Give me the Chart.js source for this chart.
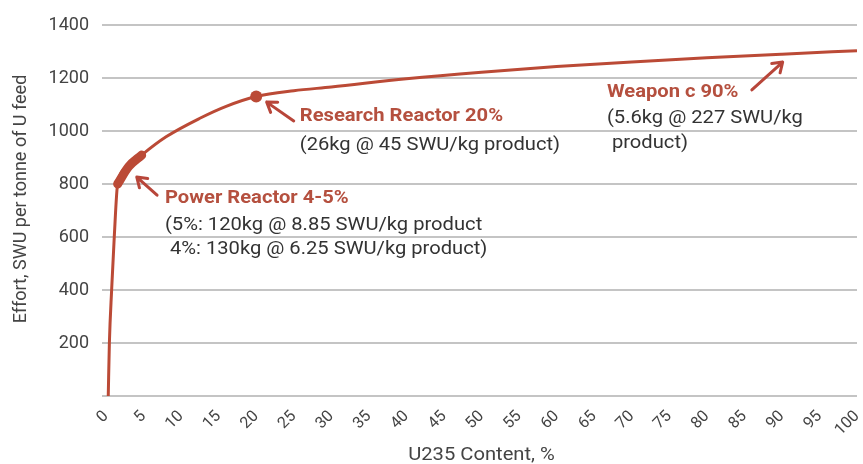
<!DOCTYPE html>
<html>
<head>
<meta charset="utf-8">
<script src="https://cdn.jsdelivr.net/npm/chart.js@4.4.1/dist/chart.umd.min.js"></script>
<style>
  html, body { margin: 0; padding: 0; background: #fff; }
  #wrap { width: 863px; height: 464px; position: relative; }
</style>
</head>
<body>
<div id="wrap"><canvas id="c" width="863" height="464"></canvas></div>
<script>
// ---- data ----
const u235Content = [0.3, 0.45, 0.75, 1.1, 1.55, 3.0, 4.75, 8, 12.5, 16, 20, 25, 30, 40, 50, 60, 70, 80, 90, 100];
const swuEffort   = [0, 200, 400, 600, 800, 865, 909, 978, 1048, 1093, 1130, 1152, 1166, 1197, 1222, 1243, 1260, 1276, 1290, 1303];
const powerReactorX = [1.55, 3.0, 4.75];
const powerReactorY = [800, 865, 909];
const researchX = [20];
const researchY = [1130];
const yTicks = [0, 200, 400, 600, 800, 1000, 1200, 1400];
const xTicks = [0, 5, 10, 15, 20, 25, 30, 35, 40, 45, 50, 55, 60, 65, 70, 75, 80, 85, 90, 95, 100];

const xTitle = 'U235 Content, %';
const yTitle = 'Effort, SWU per tonne of U feed';
const annotations = [
  { title: 'Research Reactor 20%', lines: ['(26kg @ 45 SWU/kg product)'] },
  { title: 'Power Reactor 4-5%', lines: ['(5%: 120kg @ 8.85 SWU/kg product', ' 4%: 130kg @ 6.25 SWU/kg product)'] },
  { title: 'Weapon c 90%', lines: ['(5.6kg @ 227 SWU/kg', ' product)'] }
];

// ---- styling / placement (data-space anchors) ----
const RED = '#bb4a36';
const LABEL_RED = '#b5503f';
const TEXT = '#333333';
const AXIS_TEXT = '#444444';
const SX = 1.12; // horizontal stretch of reference lettering
const annoPlace = [
  { x: 25.8, y: [1053, 947], arrow: [[25.0, 1038], [21.4, 1109]] },
  { x: 7.85, y: [745, 642, 551], arrow: [[6.8, 758], [4.1, 826]] },
  { x: 66.7, y: [1147, 1049, 951], arrow: [[86.0, 1155], [90.1, 1260]] }
];

const toXY = (xs, ys) => xs.map((x, i) => ({ x: x, y: ys[i] }));

function stretchedText(ctx, text, x, y, align) {
  ctx.save();
  ctx.translate(x, y);
  ctx.scale(SX, 1);
  ctx.textAlign = align;
  ctx.fillText(text, 0, 0);
  ctx.restore();
}

const annoPlugin = {
  id: 'annos',
  afterDraw(chart) {
    const ctx = chart.ctx, xs = chart.scales.x, ys = chart.scales.y, ca = chart.chartArea;
    ctx.save();
    ctx.textBaseline = 'middle';
    // axis titles
    ctx.fillStyle = AXIS_TEXT;
    ctx.font = '18px Roboto';
    stretchedText(ctx, xTitle, (ca.left + ca.right) / 2, 455, 'center');
    ctx.save();
    ctx.translate(21, 199);
    ctx.rotate(-Math.PI / 2);
    ctx.textAlign = 'center';
    ctx.fillText(yTitle, 0, 0);
    ctx.restore();

    annotations.forEach((a, i) => {
      const p = annoPlace[i];
      const px = xs.getPixelForValue(p.x);
      ctx.font = 'bold 18px Roboto';
      ctx.fillStyle = LABEL_RED;
      stretchedText(ctx, a.title, px, ys.getPixelForValue(p.y[0]), 'left');
      ctx.font = '18px Roboto';
      ctx.fillStyle = TEXT;
      a.lines.forEach((l, j) => stretchedText(ctx, l, px, ys.getPixelForValue(p.y[j + 1]), 'left'));
      // arrow
      const x1 = xs.getPixelForValue(p.arrow[0][0]), y1 = ys.getPixelForValue(p.arrow[0][1]);
      const x2 = xs.getPixelForValue(p.arrow[1][0]), y2 = ys.getPixelForValue(p.arrow[1][1]);
      ctx.strokeStyle = '#b8463a';
      ctx.lineWidth = 3;
      ctx.lineCap = 'round';
      ctx.lineJoin = 'round';
      ctx.beginPath();
      ctx.moveTo(x1, y1); ctx.lineTo(x2, y2);
      const ang = Math.atan2(y2 - y1, x2 - x1), hl = 11;
      ctx.moveTo(x2 - hl * Math.cos(ang - 0.6), y2 - hl * Math.sin(ang - 0.6));
      ctx.lineTo(x2, y2);
      ctx.lineTo(x2 - hl * Math.cos(ang + 0.6), y2 - hl * Math.sin(ang + 0.6));
      ctx.stroke();
    });
    ctx.restore();
  }
};

new Chart(document.getElementById('c'), {
  type: 'line',
  data: {
    datasets: [
      { data: toXY(u235Content, swuEffort), borderColor: RED, borderWidth: 3, pointRadius: 0,
        cubicInterpolationMode: 'monotone', fill: false, order: 3 },
      { data: toXY(powerReactorX, powerReactorY), borderColor: RED, borderWidth: 9, pointRadius: 0,
        borderCapStyle: 'round', cubicInterpolationMode: 'monotone', fill: false, order: 2 },
      { data: toXY(researchX, researchY), showLine: false, pointRadius: 6, pointBackgroundColor: RED,
        pointBorderColor: RED, pointBorderWidth: 0, order: 1 }
    ]
  },
  options: {
    responsive: false,
    animation: false,
    events: [],
    layout: { padding: { left: 8, right: 6, top: 25, bottom: 0 } },
    plugins: { legend: { display: false }, tooltip: { enabled: false } },
    scales: {
      x: {
        type: 'linear', min: 0, max: 100,
        afterBuildTicks(s) { s.ticks = xTicks.map(v => ({ value: v })); },
        grid: { display: false },
        border: { display: false },
        ticks: { minRotation: 45, maxRotation: 45, autoSkip: false, color: AXIS_TEXT,
                 font: { family: 'Roboto', size: 16 }, padding: 3 },
        title: { display: false },
        afterFit(s) { s.height = 68; s.paddingLeft = 0; s.paddingRight = 0; }
      },
      y: {
        min: 0, max: 1400,
        afterBuildTicks(s) { s.ticks = yTicks.map(v => ({ value: v })); },
        grid: { color: '#c4c4c4', lineWidth: 2, drawTicks: true, tickLength: 4 },
        border: { display: false },
        ticks: { color: AXIS_TEXT, font: { family: 'Roboto', size: 18 }, padding: 13,
                 callback: v => v === 0 ? '' : String(v) },
        title: { display: false },
        afterFit(s) { s.width = 98; s.paddingTop = 0; s.paddingBottom = 0; }
      }
    }
  },
  plugins: [annoPlugin]
});
</script>
</body>
</html>
